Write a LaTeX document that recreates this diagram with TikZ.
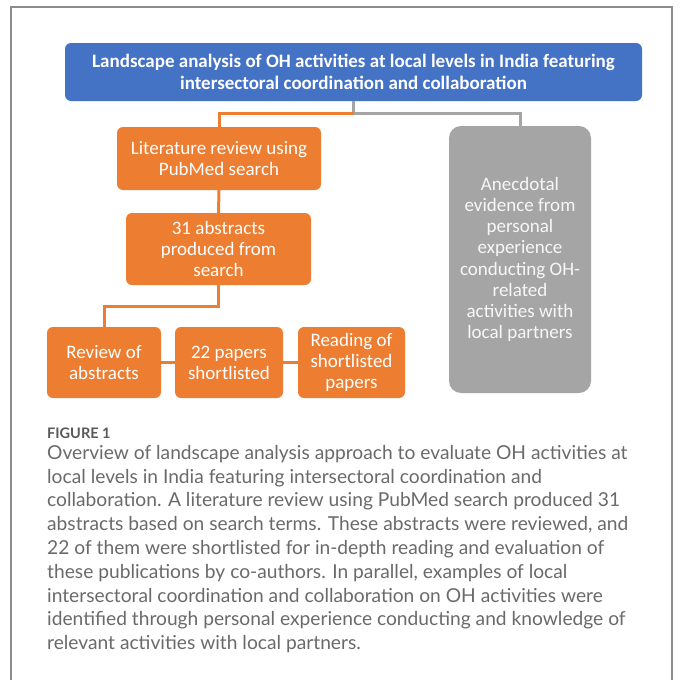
\documentclass[tikz,border=0pt]{standalone}
\usepackage{fontspec}
\setmainfont{Carlito}
\newfontfamily\capfont{Lato}
\definecolor{ohblue}{HTML}{4472C4}
\definecolor{ohorange}{HTML}{ED7D31}
\definecolor{ohgray}{HTML}{A5A5A5}
\definecolor{framegray}{HTML}{8C8C8C}
\definecolor{captext}{HTML}{6A6A6A}
\definecolor{labeltext}{HTML}{5A5A5A}
\definecolor{graytext}{HTML}{F7F7F7}
\tikzset{
  box/.style={rounded corners=6pt, inner sep=0pt, align=center, text=white,
    font=\fontsize{19}{21}\selectfont},
  orangebox/.style={box, fill=ohorange},
  titlebox/.style={box, fill=ohblue, font=\bfseries\fontsize{19}{22.5}\selectfont},
  graybox/.style={box, fill=ohgray, rounded corners=12pt, text=graytext,
    font=\fontsize{19}{21.2}\selectfont},
  olink/.style={draw=ohorange, line width=3pt},
  glink/.style={draw=ohgray, line width=3pt},
}
\begin{document}
\begin{tikzpicture}[x=1pt,y=-1pt]
\useasboundingbox (0,0) rectangle (681,680);
\clip (0,0) rectangle (681,680);
\fill[white] (0,0) rectangle (681,680);
% outer frame, open past the lower edge
\draw[framegray, line width=2pt] (11,700) -- (11,7) -- (672,7) -- (672,700);

% boxes
\node[titlebox, minimum width=577pt, minimum height=58pt] (top) at (353.5,72)
  {Landscape analysis of OH activities at local levels in India featuring\\
   intersectoral coordination and collaboration};
\node[orangebox, minimum width=204pt, minimum height=63pt] (lit) at (219,158.5)
  {Literature review using\\PubMed search};
\node[orangebox, minimum width=185pt, minimum height=72pt] (abs) at (218.5,249)
  {31 abstracts\\produced from\\search};
\node[orangebox, minimum width=114pt, minimum height=71pt] (rev) at (104,362.5)
  {Review of\\abstracts};
\node[orangebox, minimum width=108pt, minimum height=71pt] (pap) at (229,362.5)
  {22 papers\\shortlisted};
\node[orangebox, minimum width=107pt, minimum height=71pt] (rea) at (351.5,362.5)
  {Reading of\\shortlisted\\papers};
\node[graybox, minimum width=142pt, minimum height=267pt] (anec) at (520,259.5)
  {Anecdotal\\evidence from\\personal\\experience\\conducting OH-\\related\\activities with\\local partners};

% connectors
\coordinate (split) at (353.5,113);
\path[glink] (top.south) -- (split);
\path[olink] (split) -| (lit.north);
\path[glink] (split) -| (anec.north);
\path[olink] (lit.south) -- (abs.north);
\path[olink] (abs.south) |- ([yshift=-21pt]abs.south) -| (rev.north);
\path[olink] (rev.east) -- (pap.west);
\path[olink] (pap.east) -- (rea.west);

% caption
\node[anchor=west, text=labeltext, inner sep=0pt,
  font=\capfont\bfseries\fontsize{14.5}{16}\selectfont] (figlabel) at (47,433) {FIGURE 1};
\node[anchor=north west, text=captext, inner sep=0pt, align=left,
  font=\capfont\fontsize{19.2}{23.8}\selectfont] (caption) at (47,445)
  {Overview of landscape analysis approach to evaluate OH activities at\\
   local levels in India featuring intersectoral coordination and\\
   collaboration. A literature review using PubMed search produced 31\\
   abstracts based on search terms. These abstracts were reviewed, and\\
   22 of them were shortlisted for in-depth reading and evaluation of\\
   these publications by co-authors. In parallel, examples of local\\
   intersectoral coordination and collaboration on OH activities were\\
   identified through personal experience conducting and knowledge of\\
   relevant activities with local partners.};
\end{tikzpicture}
\end{document}
